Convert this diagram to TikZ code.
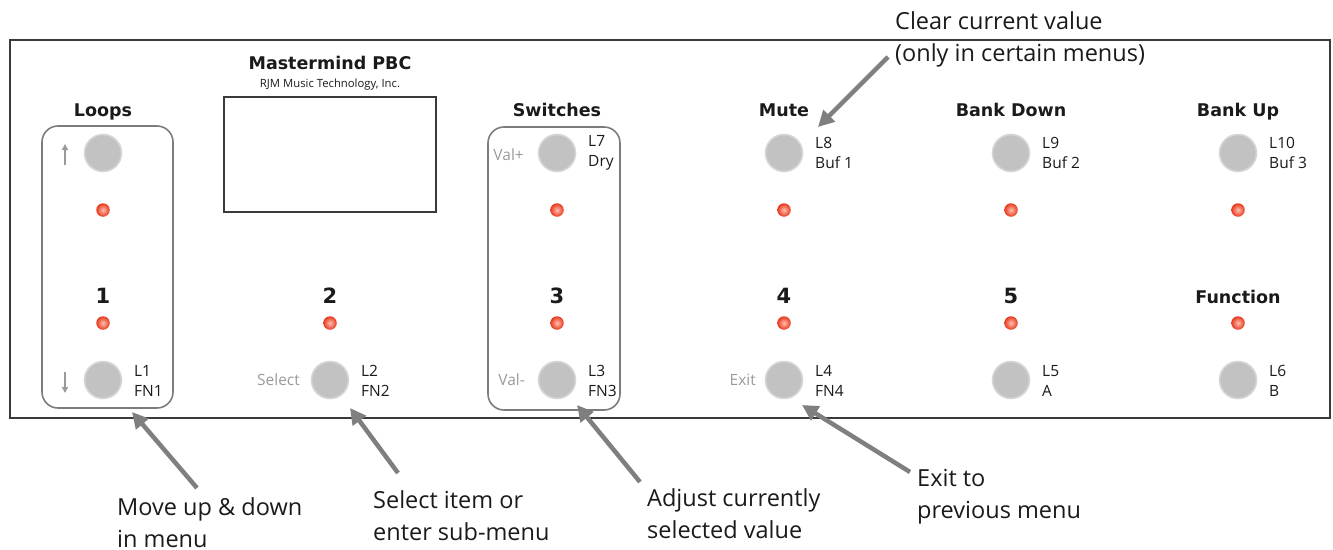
\documentclass[tikz,border=0pt]{standalone}
\usepackage{fontspec}
\setmainfont{Open Sans}
\newfontfamily\headfont{DejaVu Sans}
\usetikzlibrary{arrows.meta,shadings}
\definecolor{panelline}{HTML}{3A3A3A}
\definecolor{boxline}{HTML}{7C7C7C}
\definecolor{btnfill}{HTML}{C2C2C2}
\definecolor{btnedge}{HTML}{D6D6D6}
\definecolor{ledout}{HTML}{E8381C}
\definecolor{ledin}{HTML}{FFC0B0}
\definecolor{callgray}{HTML}{7F7F7F}
\definecolor{softgray}{HTML}{9A9A9A}
\definecolor{txt}{HTML}{1A1A1A}
\tikzset{
  btn/.style={circle,minimum size=37pt,inner sep=0pt,fill=btnfill,draw=btnedge,line width=1.6pt},
  led/.style={circle,minimum size=13.5pt,inner sep=0pt,inner color=ledin,outer color=ledout},
  head/.style={font=\headfont\fontsize{17.5}{20}\selectfont\bfseries,text=txt,inner sep=0pt,anchor=base},
  num/.style={font=\headfont\fontsize{21}{24}\selectfont\bfseries,text=txt,inner sep=0pt,anchor=base},
  lab/.style={font=\fontsize{15.5}{20}\selectfont,text=txt,align=left,inner sep=0pt,anchor=west},
  glab/.style={font=\fontsize{15.5}{20}\selectfont,text=softgray,inner sep=0pt,anchor=east},
  call/.style={font=\fontsize{23.5}{32}\selectfont,text=txt,align=left,inner sep=0pt,anchor=north west},
  callarrow/.style={draw=callgray,line width=4.5pt,-{Triangle[length=16pt,width=16pt]}},
  grp/.style={draw=boxline,line width=1.6pt,rounded corners=16pt},
  updown/.style={draw=softgray,line width=1.4pt,-{Triangle[length=6pt,width=6pt]}}
}
\begin{document}
\begin{tikzpicture}[x=1pt,y=-1pt]
\useasboundingbox (0,0) rectangle (1333,549);
% panel
\draw[panelline,line width=1.2pt] (10,40) rectangle (1330,418);
% group boxes
\draw[grp] (42,126) rectangle (173,408);
\draw[grp] (488,127) rectangle (620,410);
% screen
\node[draw=panelline,line width=1.2pt,minimum width=212pt,minimum height=115pt,inner sep=0pt] (screen) at (330,154.5) {};
\node[font=\headfont\fontsize{17.5}{20}\selectfont\bfseries,text=txt,inner sep=0pt,anchor=base] (brand) at (330,69) {Mastermind PBC};
\node[font=\fontsize{11.3}{12}\selectfont,text=txt,inner sep=0pt,anchor=base] (maker) at (330,87) {RJM Music Technology, Inc.};
% headers
\node[head] (hloops) at (103,116) {Loops};
\node[head] (hsw) at (557,116) {Switches};
\node[head] (hmute) at (784,116) {Mute};
\node[head] (hbd) at (1011,116) {Bank Down};
\node[head] (hbu) at (1238,116) {Bank Up};
% numbers
\node[num] (n1) at (103,303) {1};
\node[num] (n2) at (330,303) {2};
\node[num] (n3) at (557,303) {3};
\node[num] (n4) at (784,303) {4};
\node[num] (n5) at (1011,303) {5};
\node[head] (hfn) at (1238,303) {Function};
% top row
\foreach \n/\x in {1/103,3/557,4/784,5/1011,6/1238}{
  \node[btn] (bt\n) at (\x,153) {};
  \node[led] (lt\n) at (\x,210) {};
}
% bottom row
\foreach \n/\x in {1/103,2/330,3/557,4/784,5/1011,6/1238}{
  \node[led] (lb\n) at (\x,323) {};
  \node[btn] (bb\n) at (\x,380) {};
}
% labels
\node[lab] (lt3l) at (588,153) {L7\\Dry};
\node[lab] (lt4l) at (815,153) {L8\\Buf 1};
\node[lab] (lt5l) at (1042,153) {L9\\Buf 2};
\node[lab] (lt6l) at (1269,153) {L10\\Buf 3};
\node[lab] (lb1l) at (134,381) {L1\\FN1};
\node[lab] (lb2l) at (361,381) {L2\\FN2};
\node[lab] (lb3l) at (588,381) {L3\\FN3};
\node[lab] (lb4l) at (815,381) {L4\\FN4};
\node[lab] (lb5l) at (1042,381) {L5\\A};
\node[lab] (lb6l) at (1269,381) {L6\\B};
\node[glab] (gsel) at (300,380) {Select};
\node[glab] (gvp) at (524,155) {Val+};
\node[glab] (gvm) at (525,380) {Val-};
\node[glab] (gexit) at (756,380) {Exit};
% up/down arrows
\coordinate (upa) at (65,165);
\coordinate (upb) at (65,144);
\coordinate (dna) at (65,372);
\coordinate (dnb) at (65,393);
\draw[updown] (upa) -- (upb);
\draw[updown] (dna) -- (dnb);
% callouts
\node[call] (c1) at (117,497) {Move up \& down\\in menu};
\node[call] (c2) at (373,490) {Select item or\\enter sub-menu};
\node[call] (c3) at (647,488) {Adjust currently\\selected value};
\node[call] (c4) at (917,469) {Exit to\\previous menu};
\node[call] (c5) at (895,11) {Clear current value\\(only in certain menus)};
\coordinate (t1) at (197,488);
\coordinate (h1) at (132,412);
\coordinate (t2) at (398,473);
\coordinate (h2) at (350,408);
\coordinate (t3) at (640,482);
\coordinate (h3) at (577,405);
\coordinate (t4) at (910,472);
\coordinate (h4) at (802,405);
\coordinate (t5) at (888,57);
\coordinate (h5) at (818,127);
\draw[callarrow] (t1) -- (h1);
\draw[callarrow] (t2) -- (h2);
\draw[callarrow] (t3) -- (h3);
\draw[callarrow] (t4) -- (h4);
\draw[callarrow] (t5) -- (h5);
\end{tikzpicture}
\end{document}
